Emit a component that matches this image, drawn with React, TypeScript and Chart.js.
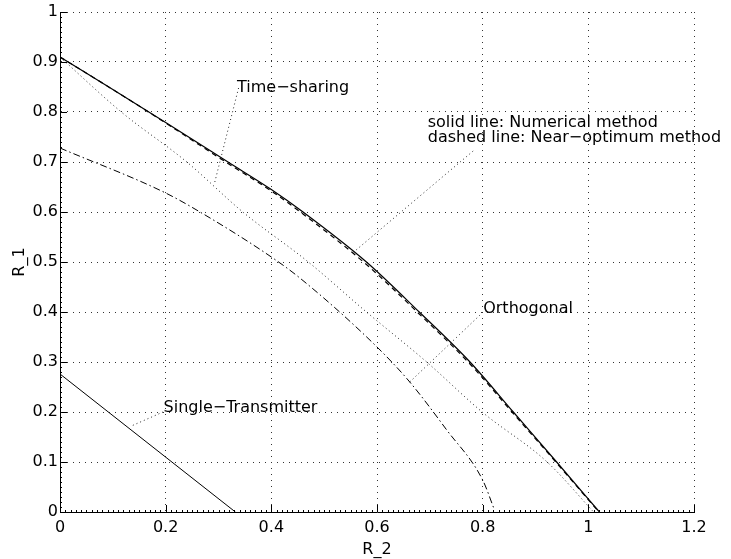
import { useEffect, useRef } from "react";
import { Chart, registerables } from "chart.js";

Chart.register(...registerables);

// Axis ticks
const xTickValues = [0, 0.2, 0.4, 0.6, 0.8, 1, 1.2];
const xTickLabels = ["0", "0.2", "0.4", "0.6", "0.8", "1", "1.2"];
const yTickValues = [0, 0.1, 0.2, 0.3, 0.4, 0.5, 0.6, 0.7, 0.8, 0.9, 1];
const yTickLabels = ["0", "0.1", "0.2", "0.3", "0.4", "0.5", "0.6", "0.7", "0.8", "0.9", "1"];

// Numerical method (solid)
const numericalX = [0, 0.1, 0.2, 0.318, 0.4, 0.46, 0.58, 0.68, 0.776, 0.858, 0.94, 1.021];
const numericalY = [0.91, 0.845, 0.779, 0.7, 0.645, 0.6, 0.5, 0.4, 0.3, 0.2, 0.1, 0];

// Near-optimum method (dashed)
const nearOptX = [0, 0.1, 0.2, 0.318, 0.4, 0.46, 0.58, 0.68, 0.776, 0.858, 0.94, 1.02];
const nearOptY = [0.91, 0.845, 0.778, 0.697, 0.642, 0.596, 0.495, 0.396, 0.296, 0.197, 0.098, 0];

// Time-sharing (dotted)
const timeShareX = [0, 0.116, 0.24, 0.346, 0.47, 0.58, 0.694, 0.799, 0.922, 1.01];
const timeShareY = [0.91, 0.8, 0.7, 0.6, 0.5, 0.4, 0.3, 0.2, 0.1, 0];

// Orthogonal (dash-dot)
const orthoX = [0, 0.2, 0.265, 0.4, 0.454, 0.6, 0.662, 0.732, 0.8, 0.822];
const orthoY = [0.728, 0.638, 0.6, 0.51, 0.468, 0.33, 0.26, 0.164, 0.064, 0.005];

// Single-Transmitter (solid)
const singleX = [0, 0.332];
const singleY = [0.276, 0];

// Leader lines for annotations
const leaderTimeX = [0.338, 0.293];
const leaderTimeY = [0.848, 0.66];
const leaderMethodX = [0.782, 0.556];
const leaderMethodY = [0.722, 0.52];
const leaderOrthoX = [0.795, 0.662];
const leaderOrthoY = [0.394, 0.26];
const leaderSingleX = [0.195, 0.135];
const leaderSingleY = [0.2, 0.172];

// Annotation texts and anchors (data coordinates)
const annotationTexts = [
  "Time−sharing",
  "solid line: Numerical method",
  "dashed line: Near−optimum method",
  "Orthogonal",
  "Single−Transmitter",
];
const annotationX = [0.335, 0.696, 0.696, 0.801, 0.196];
const annotationY = [0.848, 0.778, 0.748, 0.406, 0.208];

const FONT = '"DejaVu Sans", sans-serif';

const zip = (xs: number[], ys: number[]) => xs.map((x, i) => ({ x, y: ys[i] }));

const overlayPlugin = {
  id: "overlay",
  afterDatasetsDraw(chart: any) {
    const { ctx, chartArea } = chart;
    const xs = chart.scales.x;
    const ys = chart.scales.y;
    ctx.save();
    // inward tick marks
    ctx.strokeStyle = "#000";
    ctx.lineWidth = 1;
    ctx.setLineDash([]);
    ctx.beginPath();
    const bottom = chartArea.bottom;
    const left = chartArea.left;
    for (let i = 0; i <= 120; i++) {
      const v = i / 100;
      const px = Math.round(xs.getPixelForValue(v)) + 0.5;
      const len = i % 20 === 0 ? 7 : 2;
      ctx.moveTo(px, bottom);
      ctx.lineTo(px, bottom - len);
    }
    for (let i = 0; i <= 100; i++) {
      const v = i / 100;
      const py = Math.round(ys.getPixelForValue(v)) + 0.5;
      const len = i % 10 === 0 ? 7 : 2;
      ctx.moveTo(left, py);
      ctx.lineTo(left + len, py);
    }
    ctx.stroke();

    // annotation texts
    ctx.font = `16px ${FONT}`;
    ctx.fillStyle = "#000";
    ctx.textBaseline = "middle";
    ctx.textAlign = "left";
    annotationTexts.forEach((t, i) => {
      ctx.fillText(t, xs.getPixelForValue(annotationX[i]), ys.getPixelForValue(annotationY[i]));
    });
    ctx.restore();
  },
};

const lineDs = (data: any[], dash: number[], width: number, color = "#000", smooth = false) => ({
  data,
  showLine: true,
  borderColor: color,
  borderWidth: width,
  borderDash: dash,
  pointRadius: 0,
  pointHoverRadius: 0,
  fill: false,
  tension: 0,
  cubicInterpolationMode: smooth ? "monotone" : "default",
});

export default function App() {
  const ref = useRef<HTMLCanvasElement | null>(null);

  useEffect(() => {
    if (!ref.current) return;
    const dotted = [1, 3];
    const chart = new Chart(ref.current, {
      type: "scatter",
      data: {
        datasets: [
          lineDs(zip(timeShareX, timeShareY), dotted, 1, "#222", true),
          lineDs(zip(orthoX, orthoY), [7, 3, 1.5, 3], 1, "#000", true),
          lineDs(zip(singleX, singleY), [], 1),
          lineDs(zip(leaderTimeX, leaderTimeY), dotted, 1, "#222"),
          lineDs(zip(leaderMethodX, leaderMethodY), dotted, 1, "#222"),
          lineDs(zip(leaderOrthoX, leaderOrthoY), dotted, 1, "#222"),
          lineDs(zip(leaderSingleX, leaderSingleY), dotted, 1, "#222"),
          lineDs(zip(numericalX, numericalY), [], 1.2, "#000", true),
          lineDs(zip(nearOptX, nearOptY), [5, 4], 1.2, "#000", true),
        ] as any,
      },
      options: {
        animation: false,
        responsive: false,
        devicePixelRatio: 1,
        events: [],
        layout: { padding: { left: 0, top: 12, right: 37, bottom: 0 } },
        plugins: { legend: { display: false }, tooltip: { enabled: false } },
        scales: {
          x: {
            type: "linear",
            min: 0,
            max: 1.2,
            afterFit: (s: any) => {
              s.height = 47;
            },
            afterBuildTicks: (s: any) => {
              s.ticks = xTickValues.map((v) => ({ value: v }));
            },
            ticks: {
              padding: 6,
              color: "#000",
              font: { family: FONT, size: 16 },
              maxRotation: 0,
              autoSkip: false,
              callback: (_v: any, i: number) => xTickLabels[i],
            },
            grid: { color: "#333", lineWidth: 1, drawTicks: false },
            border: { display: true, color: "#000", width: 1, dash: [1, 5] },
            title: {
              display: true,
              text: "R_2",
              color: "#000",
              font: { family: FONT, size: 16 },
              padding: { top: 3, bottom: 0 },
            },
          },
          y: {
            type: "linear",
            min: 0,
            max: 1,
            afterFit: (s: any) => {
              s.width = 60;
            },
            afterBuildTicks: (s: any) => {
              s.ticks = yTickValues.map((v) => ({ value: v }));
            },
            ticks: {
              padding: 2,
              color: "#000",
              font: { family: FONT, size: 16 },
              autoSkip: false,
              callback: (_v: any, i: number) => yTickLabels[i],
            },
            grid: { color: "#333", lineWidth: 1, drawTicks: false },
            border: { display: true, color: "#000", width: 1, dash: [1, 5] },
            title: {
              display: true,
              text: "R_1",
              color: "#000",
              font: { family: FONT, size: 16 },
              padding: { top: 10, bottom: 0 },
            },
          },
        },
      },
      plugins: [overlayPlugin],
    });
    return () => chart.destroy();
  }, []);

  return (
    <div style={{ position: "absolute", left: 0, top: 0, width: 731, height: 559, background: "#fff" }}>
      <canvas ref={ref} width={731} height={559} style={{ width: 731, height: 559 }} />
    </div>
  );
}
